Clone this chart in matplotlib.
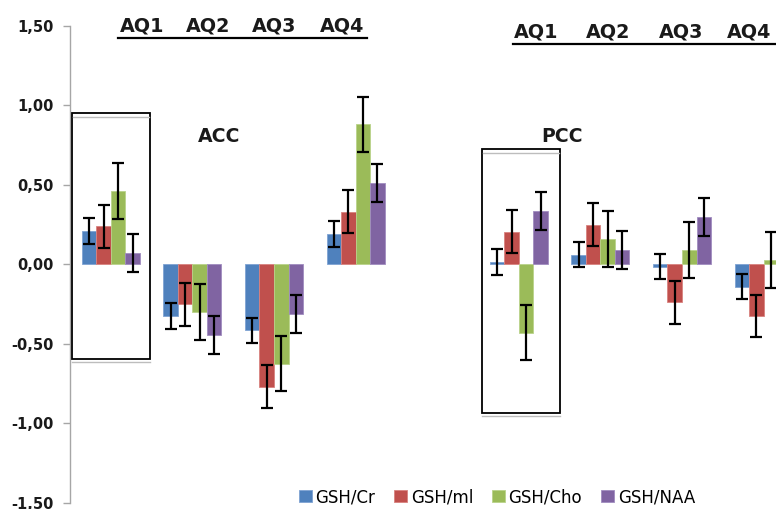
import numpy as np
import matplotlib
matplotlib.use("Agg")
import matplotlib.pyplot as plt
from matplotlib.ticker import FixedLocator, FuncFormatter
from matplotlib.patches import Rectangle, Patch
from matplotlib.lines import Line2D

plt.rcParams["font.family"] = ["DejaVu Sans"]

# ---- data -------------------------------------------------------------
regions = ["ACC", "PCC"]
quartiles = ["AQ1", "AQ2", "AQ3", "AQ4"]
series = ["GSH/Cr", "GSH/ml", "GSH/Cho", "GSH/NAA"]

acc_cr = [0.21, -0.325, -0.415, 0.19]
acc_ml = [0.24, -0.25, -0.77, 0.33]
acc_cho = [0.46, -0.30, -0.625, 0.88]
acc_naa = [0.07, -0.445, -0.31, 0.51]

pcc_cr = [0.015, 0.06, -0.015, -0.14]
pcc_ml = [0.205, 0.25, -0.24, -0.325]
pcc_cho = [-0.43, 0.16, 0.09, 0.027]
pcc_naa = [0.335, 0.09, 0.30, np.nan]

series_err = [0.08, 0.135, 0.175, 0.12]

y_ticks = [-1.5, -1.0, -0.5, 0.0, 0.5, 1.0, 1.5]

colors = ["#4F81BD", "#C0504D", "#9BBB59", "#8064A2"]
edges = ["#7FA3D3", "#D9827F", "#B9D38A", "#A08CC0"]

# ---- layout -----------------------------------------------------------
W, H = 776, 509
fig = plt.figure(figsize=(W / 100, H / 100), dpi=100)


def fx(px):
    return px / W


def fy(py):
    return 1 - py / H


slot_px = 81.6
ax_left, ax_top, ax_bottom = 70, 25.8, 502.8
ax = fig.add_axes([fx(ax_left), fy(ax_bottom), 9 * slot_px / W,
                   (ax_bottom - ax_top) / H])

acc_vals = [acc_cr, acc_ml, acc_cho, acc_naa]
pcc_vals = [pcc_cr, pcc_ml, pcc_cho, pcc_naa]

slots = {"ACC": np.arange(4), "PCC": np.arange(4) + 5}
bw = 0.178

for region, vals in zip(regions, [acc_vals, pcc_vals]):
    base = slots[region]
    for i, (v, c, e, er) in enumerate(zip(vals, colors, edges, series_err)):
        x = base + (i - 1.5) * bw
        v = np.asarray(v, dtype=float)
        ax.bar(x, v, width=bw, color=c, edgecolor=e, linewidth=0.6, zorder=2)
        ax.errorbar(x, v, yerr=er, fmt="none", ecolor="black",
                    elinewidth=1.6, capsize=4.6, capthick=1.6, zorder=3)

ax.set_xlim(-0.5, 8.5)
ax.set_ylim(-1.5, 1.5)
ax.yaxis.set_major_locator(FixedLocator(y_ticks))
ax.yaxis.set_major_formatter(FuncFormatter(lambda v, p: f"{v:.2f}".replace(".", ",")))
ax.set_xticks([])
for s in ["top", "right", "bottom"]:
    ax.spines[s].set_visible(False)
ax.spines["left"].set_color("#A6A6A6")
ax.spines["left"].set_linewidth(1.0)
ax.tick_params(axis="y", direction="out", length=5, width=1.0, color="#A6A6A6",
               labelsize=10.5, pad=7)
for lab in ax.get_yticklabels():
    lab.set_fontweight("bold")
    lab.set_color("#1a1a1a")

# ---- quartile headers -------------------------------------------------
hdr_font = dict(fontsize=13.8, fontweight="bold", color="#1a1a1a",
                ha="center", va="center")
acc_hdr_x = [142, 208, 274, 342]
pcc_hdr_x = [536, 608, 681, 749]
for q, x in zip(quartiles, acc_hdr_x):
    fig.text(fx(x), fy(26), q, **hdr_font)
for q, x in zip(quartiles, pcc_hdr_x):
    fig.text(fx(x), fy(32), q, **hdr_font)
fig.add_artist(Line2D([fx(118), fx(367)], [fy(38), fy(38)], color="black",
                      linewidth=1.6))
fig.add_artist(Line2D([fx(513), fx(776)], [fy(44), fy(44)], color="black",
                      linewidth=1.6))

# ---- region labels ----------------------------------------------------
fig.text(fx(219), fy(137), "ACC", fontsize=13.6, fontweight="bold",
         ha="center", va="center", color="#1a1a1a")
fig.text(fx(562), fy(137), "PCC", fontsize=13.6, fontweight="bold",
         ha="center", va="center", color="#1a1a1a")

# ---- highlight boxes around AQ1 ---------------------------------------
def highlight(x0, x1, y0, y1):
    fig.add_artist(Rectangle((fx(x0), fy(y1)), fx(x1) - fx(x0), fy(y0) - fy(y1),
                             transform=fig.transFigure, fill=False,
                             edgecolor="black", linewidth=1.3, zorder=5))
    fig.add_artist(Line2D([fx(x0 + 1), fx(x1 - 1)], [fy(y0 + 3.4), fy(y0 + 3.4)],
                          color="#BDBDBD", linewidth=1.0, zorder=5))
    fig.add_artist(Line2D([fx(x0), fx(x1)], [fy(y1 + 3), fy(y1 + 3)],
                          color="#BDBDBD", linewidth=1.0, zorder=5))


highlight(72, 150, 113.3, 359.3)
highlight(482, 559.7, 149.3, 413.3)

# ---- legend -----------------------------------------------------------
handles = [Patch(facecolor=c, edgecolor=e, linewidth=0.6) for c, e in zip(colors, edges)]
fig.legend(handles, series, loc="center", bbox_to_anchor=(fx(497), fy(497)),
           ncol=4, frameon=False, fontsize=12, handlelength=0.78,
           handleheight=0.78, handletextpad=0.2, columnspacing=1.15,
           borderpad=0, borderaxespad=0)

fig.savefig("out.png", dpi=100)
